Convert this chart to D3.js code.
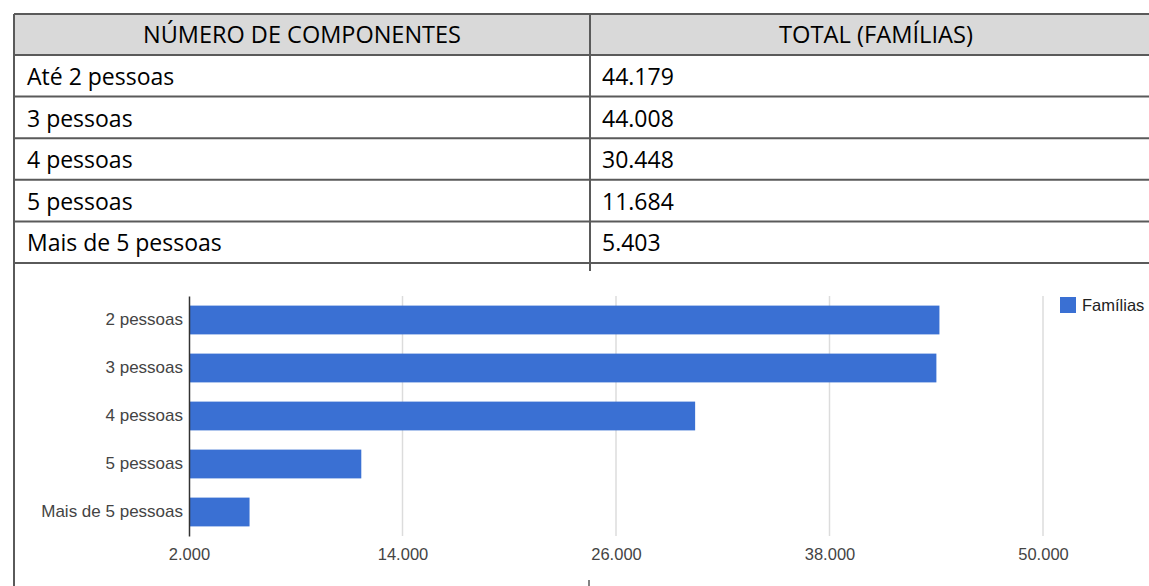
<!DOCTYPE html>
<html>
<head>
<meta charset="utf-8">
<script src="https://cdn.jsdelivr.net/npm/d3@7"></script>
<style>
  body { margin: 0; background: #fff; }
  svg { display: block; }
</style>
</head>
<body>
<div id="canvas"></div>
<script>
// table data
var headers = ["NÚMERO DE COMPONENTES", "TOTAL (FAMÍLIAS)"];
var tableLabels = ["Até 2 pessoas", "3 pessoas", "4 pessoas", "5 pessoas", "Mais de 5 pessoas"];
var totals = [44179, 44008, 30448, 11684, 5403];

// chart data
var categories = ["2 pessoas", "3 pessoas", "4 pessoas", "5 pessoas", "Mais de 5 pessoas"];
var familias = [44179, 44008, 30448, 11684, 5403];
var xTicks = [2000, 14000, 26000, 38000, 50000];
var seriesName = "Famílias";

var width = 1149;
var height = 586;
var ptBR = d3.formatLocale({ decimal: ",", thousands: ".", grouping: [3], currency: ["R$", ""] });
var fmt = ptBR.format(",d");

var svg = d3.select("#canvas").append("svg")
  .attr("width", width)
  .attr("height", height);

// ---- table ----
var tLeft = 14, tMid = 590, tRight = 1162, tTop = 14;
var headH = 41, rowH = 41.6;
var lineColor = "#5a5a5a";
var tableFont = "'Open Sans', sans-serif";

svg.append("rect")
  .attr("x", tLeft).attr("y", tTop)
  .attr("width", tRight - tLeft).attr("height", headH)
  .attr("fill", "#d9d9d9");

var table = svg.append("g").attr("font-family", tableFont).attr("fill", "#000");

table.selectAll("text.head")
  .data(headers)
  .enter().append("text")
  .attr("class", "head")
  .attr("x", (d, i) => i == 0 ? (tLeft + tMid) / 2 : (tMid + tRight) / 2)
  .attr("y", tTop + headH / 2)
  .attr("dy", "0.38em")
  .attr("text-anchor", "middle")
  .attr("font-size", 23)
  .attr("textLength", (d, i) => i == 0 ? 318 : 194)
  .attr("lengthAdjust", "spacingAndGlyphs")
  .text(d => d);

var rowTop = (i) => tTop + headH + i * rowH;

table.selectAll("text.lab")
  .data(tableLabels)
  .enter().append("text")
  .attr("class", "lab")
  .attr("x", tLeft + 13)
  .attr("y", (d, i) => rowTop(i) + rowH / 2)
  .attr("dy", "0.40em")
  .attr("font-size", 23)
  .text(d => d);

table.selectAll("text.val")
  .data(totals)
  .enter().append("text")
  .attr("class", "val")
  .attr("x", tMid + 12)
  .attr("y", (d, i) => rowTop(i) + rowH / 2)
  .attr("dy", "0.40em")
  .attr("font-size", 23)
  .text(d => fmt(d));

// table lines
var hLines = [tTop, tTop + headH];
tableLabels.forEach((d, i) => hLines.push(rowTop(i + 1)));
svg.append("g").selectAll("line")
  .data(hLines)
  .enter().append("line")
  .attr("x1", tLeft).attr("x2", width)
  .attr("y1", d => d).attr("y2", d => d)
  .attr("stroke", lineColor)
  .attr("stroke-width", 2);

var lastLine = rowTop(tableLabels.length);
svg.append("line")
  .attr("x1", tLeft).attr("x2", tLeft)
  .attr("y1", tTop).attr("y2", height)
  .attr("stroke", lineColor).attr("stroke-width", 2);
svg.append("line")
  .attr("x1", tMid).attr("x2", tMid)
  .attr("y1", tTop).attr("y2", lastLine + 8)
  .attr("stroke", lineColor).attr("stroke-width", 2);
svg.append("line")
  .attr("x1", tMid - 1).attr("x2", tMid - 1)
  .attr("y1", height - 6).attr("y2", height)
  .attr("stroke", lineColor).attr("stroke-width", 1.5);

// ---- bar chart ----
var chartFont = "'Liberation Sans', Arial, sans-serif";
var x = d3.scaleLinear().domain([2000, 50000]).range([189, 1043]);
var y = d3.scaleBand().domain(categories).range([296, 536])
  .paddingInner(0.4).paddingOuter(0.2);

var grid = svg.append("g");
grid.selectAll("line")
  .data(xTicks.slice(1))
  .enter().append("line")
  .attr("x1", d => x(d)).attr("x2", d => x(d))
  .attr("y1", 296).attr("y2", 536)
  .attr("stroke", "#dcdcdc")
  .attr("stroke-width", 1.5);

svg.append("g").selectAll("rect")
  .data(familias)
  .enter().append("rect")
  .attr("x", x(2000))
  .attr("y", (d, i) => y(categories[i]))
  .attr("width", d => x(d) - x(2000))
  .attr("height", y.bandwidth())
  .attr("fill", "#3a70d3");

var xAxis = d3.axisBottom(x).tickValues(xTicks).tickSize(0).tickPadding(12)
  .tickFormat(d => fmt(d));
var gx = svg.append("g")
  .attr("transform", "translate(0,536)")
  .call(xAxis);
gx.select(".domain").remove();
gx.selectAll("text")
  .attr("font-family", chartFont)
  .attr("font-size", 16.5)
  .attr("fill", "#444");

var yAxis = d3.axisLeft(y).tickSize(0).tickPadding(6);
var gy = svg.append("g")
  .attr("transform", "translate(189,0)")
  .call(yAxis);
gy.select(".domain").attr("stroke", "#333").attr("stroke-width", 1.5);
gy.selectAll("text")
  .attr("font-family", chartFont)
  .attr("font-size", 17)
  .attr("fill", "#444");

// legend
var legend = svg.append("g").attr("transform", "translate(1060,297)");
legend.append("rect")
  .attr("width", 16).attr("height", 16)
  .attr("fill", "#3a70d3");
legend.append("text")
  .attr("x", 22).attr("y", 8)
  .attr("dy", "0.35em")
  .attr("font-family", chartFont)
  .attr("font-size", 16.5)
  .attr("fill", "#222")
  .text(seriesName);
</script>
</body>
</html>
